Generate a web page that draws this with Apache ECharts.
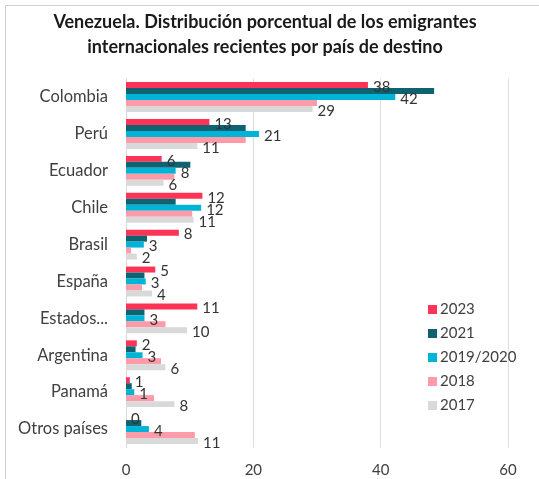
<!DOCTYPE html>
<html>
<head>
<meta charset="utf-8">
<script src="https://cdn.jsdelivr.net/npm/echarts@6/dist/echarts.min.js"></script>
<style>html,body{margin:0;padding:0;background:#fff;}#c{width:539px;height:479px;}</style>
</head>
<body>
<div id="c"></div>
<script>
const categories = ['Colombia', 'Perú', 'Ecuador', 'Chile', 'Brasil', 'España', 'Estados...', 'Argentina', 'Panamá', 'Otros países'];
const seriesNames = ['2023', '2021', '2019/2020', '2018', '2017'];
const v2023 = [38.0, 13.1, 5.6, 12.0, 8.3, 4.6, 11.2, 1.7, 0.6, 0];
const v2021 = [48.4, 18.8, 10.1, 7.8, 3.3, 2.9, 2.9, 1.5, 0.9, 2.4];
const v2019 = [42.3, 20.9, 7.8, 11.8, 2.8, 3.1, 2.9, 2.6, 1.3, 3.6];
const v2018 = [30.0, 18.8, 7.6, 10.4, 0.8, 2.5, 6.2, 5.5, 4.4, 10.8];
const v2017 = [29.3, 11.2, 5.9, 10.6, 1.7, 4.1, 9.6, 6.2, 7.6, 11.3];
const xTicks = [0, 20, 40, 60];
const colors = ['#FF3355', '#0E6272', '#00B4D8', '#FF9AA8', '#D9D9D9'];
const labelled = [true, false, true, false, true];
const values = [v2023, v2021, v2019, v2018, v2017];

const chart = echarts.init(document.getElementById('c'));
const font = 'Lato, "Open Sans", sans-serif';
chart.setOption({
  animation: false,
  graphic: [{
    type: 'rect', shape: {x: 5.5, y: 5.5, width: 600, height: 600},
    style: {fill: 'none', stroke: '#D0D0D0', lineWidth: 1}, silent: true
  }],
  title: {
    text: 'Venezuela. Distribución porcentual de los emigrantes\ninternacionales recientes por país de destino',
    left: 265, textAlign: 'center', top: 10, padding: 0,
    textStyle: {fontFamily: font, fontSize: 18, fontWeight: 'bold', color: '#1a1a1a', lineHeight: 25}
  },
  legend: {
    orient: 'vertical', left: 423, top: 297, itemWidth: 9, itemHeight: 9, itemGap: 9,
    icon: 'rect',
    data: seriesNames,
    textStyle: {fontFamily: font, fontSize: 15, color: '#404040', padding: [0, 0, 0, -2]}
  },
  grid: {left: 126, right: 31, top: 78.6, bottom: 31.5, containLabel: false},
  xAxis: {
    type: 'value', min: 0, max: 60, interval: 20,
    axisLine: {show: false}, axisTick: {show: false},
    splitLine: {lineStyle: {color: '#DDDDDD'}},
    axisLabel: {fontFamily: font, fontSize: 15, color: '#404040', margin: 15,
      formatter: v => xTicks.includes(v) ? String(v) : ''}
  },
  yAxis: {
    type: 'category', data: categories, inverse: true,
    axisLine: {show: true, lineStyle: {color: '#D9D9D9'}}, axisTick: {show: false},
    axisLabel: {fontFamily: font, fontSize: 16.5, color: '#404040', margin: 18}
  },
  series: seriesNames.map((n, i) => ({
    name: n, type: 'bar', data: values[i],
    barGap: '0%', barCategoryGap: '19%',
    itemStyle: {color: colors[i]},
    label: {
      show: labelled[i], position: 'right', distance: 5, offset: [0, 2],
      fontFamily: font, fontSize: 15, color: '#333333',
      formatter: p => String(Math.round(p.value))
    }
  }))
});
</script>
</body>
</html>
